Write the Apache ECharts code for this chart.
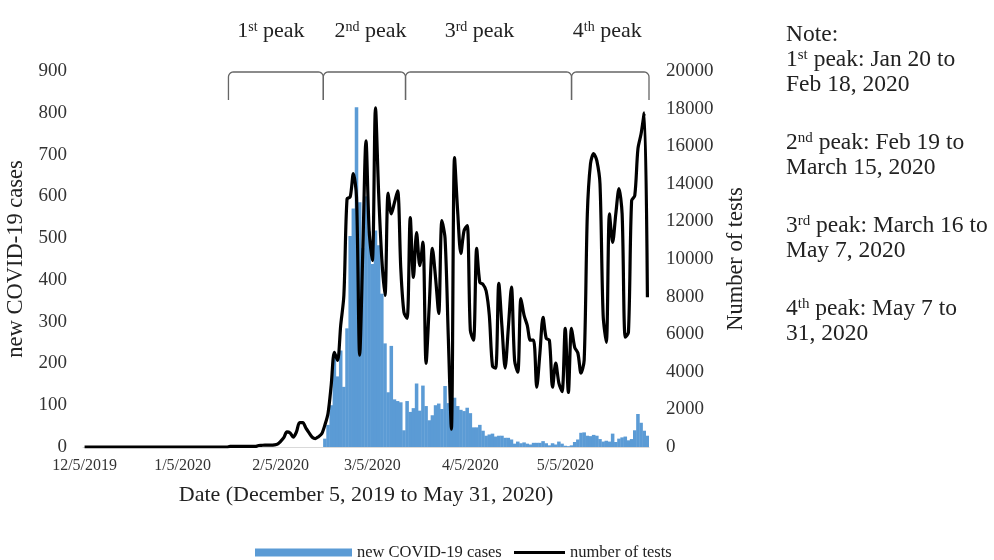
<!DOCTYPE html>
<html>
<head>
<meta charset="utf-8">
<script src="https://cdn.jsdelivr.net/npm/echarts@6/dist/echarts.min.js"></script>
<style>
  html, body { margin: 0; padding: 0; background: #fff; }
  #chart { width: 994px; height: 560px; }
</style>
</head>
<body>
<div id="chart"></div>
<script>
const FONT = 'Liberation Serif'
const TEXT = '#222'

// one category per day, 12/5/2019 .. 5/31/2020
const dates = []
for (let d = new Date(2019, 11, 5); d <= new Date(2020, 4, 31); d.setDate(d.getDate() + 1)) {
  dates.push((d.getMonth() + 1) + '/' + d.getDate() + '/' + d.getFullYear())
}
const tickLabels = ['12/5/2019', '1/5/2020', '2/5/2020', '3/5/2020', '4/5/2020', '5/5/2020']

// new COVID-19 cases per day, by month
const casesDec = [0, 0, 0, 0, 0, 0, 0, 0, 0, 0, 0, 0, 0, 0, 0, 0, 0, 0, 0, 0, 0, 0, 0, 0, 0, 0, 0]
const casesJan = [0, 0, 0, 0, 0, 0, 0, 0, 0, 0, 0, 0, 0, 0, 0, 0, 0, 0, 0, 0, 0, 0, 0, 0, 0, 0, 0, 0, 0, 0, 0]
const casesFeb = [0, 0, 0, 0, 0, 0, 0, 0, 0, 0, 0, 0, 0, 0, 0, 0, 0, 0,
  20, 53, 100, 215, 169, 231, 144, 284, 505, 571, 813]
const casesMar = [586, 476, 600, 516, 438, 518, 483, 367, 248, 131, 242, 114, 110, 107, 40,
  110, 84, 93, 152, 87, 147, 98, 64, 76, 100, 104, 91, 146, 105, 78, 118]
const casesApr = [98, 89, 86, 94, 81, 47, 47, 53, 39, 27, 30, 32, 25, 27, 27,
  22, 22, 18, 8, 13, 9, 11, 8, 6, 10, 10, 10, 14, 9, 4]
const casesMay = [9, 6, 13, 8, 3, 2, 4, 12, 18, 34, 35, 27, 26, 29, 27, 19,
  13, 15, 13, 32, 12, 20, 23, 25, 16, 19, 40, 79, 58, 39, 27]

// number of tests per day, by month
const testsDec = [0, 0, 0, 0, 0, 0, 0, 0, 0, 0, 0, 0, 0, 0, 0, 0, 0, 0, 0, 0, 0, 0, 0, 0, 0, 0, 0]
const testsJan = [0, 0, 0, 0, 0, 0, 0, 0, 0, 0, 0, 0, 0, 0, 0, 0, 0, 0, 0,
  30, 30, 30, 30, 30, 30, 30, 30, 30, 80, 90, 100]
const testsFeb = [100, 100, 110, 150, 300, 500, 800, 750, 530, 800, 1300, 1300, 1000, 750, 520,
  450, 550, 700, 1170, 1800, 3300, 5040, 4600, 6470, 8060, 13200, 13300, 14540, 13300]
const testsMar = [4880, 10500, 16290, 11500, 9920, 18040, 13500, 10000, 8060, 13500, 12400, 13000,
  13630, 9500, 7160, 6840, 12200, 9020, 11400, 9650, 10900, 4450, 7500, 10560, 9000, 7100,
  12040, 11100, 6000, 950, 15400]
const testsApr = [12500, 10290, 11500, 11780, 6200, 5680, 10560, 8750, 8650, 8300, 7000, 4300,
  4190, 8700, 6400, 4200, 6300, 8500, 4600, 3980, 7890, 7000, 6470, 5680, 5680, 3180, 5000,
  6900, 5780, 5680]
const testsMay = [3180, 4460, 3400, 2950, 6310, 2900, 6310, 5300, 5000, 3930, 4620, 12400, 15070,
  15600, 15230, 14000, 7000, 5570, 12400, 10880, 12400, 13740, 12400, 5840, 6100, 13100, 13370,
  15860, 16660, 17770, 7960]

const cases = [].concat(casesDec, casesJan, casesFeb, casesMar, casesApr, casesMay)
const tests = [].concat(testsDec, testsJan, testsFeb, testsMar, testsApr, testsMay)

// peak periods annotated above the plot
const peakNum = ['1', '2', '3', '4']
const peakSup = ['st', 'nd', 'rd', 'th']
const peakStart = ['1/20/2020', '2/19/2020', '3/16/2020', '5/7/2020']
const peakEnd = ['2/18/2020', '3/15/2020', '5/7/2020', '5/31/2020']
const peakLabelShift = [-5, 6, -9, -3]

// note block on the right: [number, superscript, rest of first line, second line]
const noteRows = [
  ['1', 'st', ' peak: Jan 20 to', 'Feb 18, 2020'],
  ['2', 'nd', ' peak: Feb 19 to', 'March 15, 2020'],
  ['3', 'rd', ' peak: March 16 to', 'May 7, 2020'],
  ['4', 'th', ' peak: May 7 to', '31, 2020'],
]

const showTick = (idx, val) => tickLabels.includes(val)

const chart = echarts.init(document.getElementById('chart'))

const option = {
  animation: false,
  textStyle: { fontFamily: FONT },
  grid: {
    left: 83,
    right: 345,
    top: 71,
    bottom: 113,
    containLabel: false,
    outerBoundsMode: 'none',
  },
  legend: [
    {
      data: [{ name: 'new COVID-19 cases', icon: 'rect' }],
      left: 250,
      top: 539,
      itemWidth: 97,
      itemHeight: 8,
      selectedMode: false,
      textStyle: { fontFamily: FONT, fontSize: 16.5, color: TEXT },
    },
    {
      data: [{ name: 'number of tests', icon: 'rect' }],
      left: 509,
      top: 539,
      itemWidth: 51,
      itemHeight: 3,
      selectedMode: false,
      textStyle: { fontFamily: FONT, fontSize: 16.5, color: TEXT },
    },
  ],
  xAxis: {
    type: 'category',
    data: dates,
    axisLine: { lineStyle: { color: '#d9d9d9', width: 1 } },
    axisTick: { interval: showTick, alignWithLabel: true, length: 5, lineStyle: { color: '#d9d9d9' } },
    axisLabel: {
      interval: showTick,
      hideOverlap: false,
      margin: 11,
      fontFamily: FONT,
      fontSize: 16,
      color: '#333',
    },
    splitLine: { show: false },
    name: 'Date (December 5, 2019 to May 31, 2020)',
    nameLocation: 'middle',
    nameGap: 37,
    nameTextStyle: { fontFamily: FONT, fontSize: 22, color: TEXT },
  },
  yAxis: [
    {
      type: 'value',
      min: 0,
      max: 900,
      interval: 100,
      axisLine: { show: false },
      axisTick: { show: false },
      splitLine: { show: false },
      axisLabel: { margin: 16, fontFamily: FONT, fontSize: 19, color: '#333' },
      name: 'new COVID-19 cases',
      nameLocation: 'middle',
      nameGap: 46,
      nameTextStyle: { fontFamily: FONT, fontSize: 22.5, color: TEXT },
    },
    {
      type: 'value',
      min: 0,
      max: 20000,
      interval: 2000,
      axisLine: { show: false },
      axisTick: { show: false },
      splitLine: { show: false },
      axisLabel: { margin: 17, fontFamily: FONT, fontSize: 19, color: '#333', formatter: v => String(v) },
      name: 'Number of tests',
      nameLocation: 'middle',
      nameGap: 74,
      nameTextStyle: { fontFamily: FONT, fontSize: 22.5, color: TEXT },
    },
  ],
  series: [
    {
      name: 'new COVID-19 cases',
      type: 'bar',
      data: cases,
      yAxisIndex: 0,
      barWidth: '112%',
      itemStyle: { color: '#5B9BD5' },
      z: 1,
    },
    {
      name: 'number of tests',
      type: 'line',
      data: tests,
      yAxisIndex: 1,
      symbol: 'none',
      smooth: 0.3,
      lineStyle: { color: '#000', width: 3.2 },
      itemStyle: { color: '#000' },
      z: 2,
    },
  ],
}

chart.setOption(option)

// annotations: braces over the peak periods, peak labels and the note
function richLine(num, sup, rest, size) {
  return {
    text: '{b|' + num + '}{s|' + sup + '}{b|' + rest + '}',
    rich: {
      b: { fontFamily: FONT, fontSize: size, fill: TEXT },
      s: { fontFamily: FONT, fontSize: Math.round(size * 0.62), fill: TEXT, verticalAlign: 'top' },
    },
  }
}

function bracePoints(x1, x2, top, bottom, r) {
  const pts = [[x1, bottom], [x1, top + r]]
  for (let k = 1; k <= 6; k++) {
    const a = Math.PI + (k / 6) * Math.PI / 2
    pts.push([x1 + r + r * Math.cos(a), top + r + r * Math.sin(a)])
  }
  for (let k = 0; k <= 6; k++) {
    const a = 1.5 * Math.PI + (k / 6) * Math.PI / 2
    pts.push([x2 - r + r * Math.cos(a), top + r + r * Math.sin(a)])
  }
  pts.push([x2, bottom])
  return pts
}

const xAt = d => chart.convertToPixel({ xAxisIndex: 0 }, d)
const band = xAt(dates[1]) - xAt(dates[0])
const graphic = []

peakStart.forEach((start, i) => {
  const sharedStart = i > 0 && peakEnd[i - 1] === start
  const sharedEnd = i < peakStart.length - 1 && peakStart[i + 1] === peakEnd[i]
  const x1 = sharedStart ? xAt(start) : xAt(start) - band / 2
  const x2 = sharedEnd ? xAt(peakEnd[i]) : xAt(peakEnd[i]) + band / 2
  graphic.push({
    type: 'polyline',
    silent: true,
    shape: { points: bracePoints(x1, x2, 72, 100, 5) },
    style: { stroke: '#666', lineWidth: 1.3, fill: null },
  })
  graphic.push({
    type: 'text',
    silent: true,
    x: (x1 + x2) / 2 + peakLabelShift[i],
    y: 31,
    style: Object.assign(richLine(peakNum[i], peakSup[i], ' peak', 22), {
      align: 'center',
      verticalAlign: 'middle',
    }),
  })
})

const noteX = 786
graphic.push({
  type: 'text',
  silent: true,
  x: noteX,
  y: 35,
  style: { text: 'Note:', fontFamily: FONT, fontSize: 23.5, fill: TEXT, verticalAlign: 'middle' },
})
noteRows.forEach((row, i) => {
  const y0 = 59.5 + i * 83
  graphic.push({
    type: 'text',
    silent: true,
    x: noteX,
    y: y0,
    style: Object.assign(richLine(row[0], row[1], row[2], 23.5), { verticalAlign: 'middle' }),
  })
  graphic.push({
    type: 'text',
    silent: true,
    x: noteX,
    y: y0 + 25.5,
    style: { text: row[3], fontFamily: FONT, fontSize: 23.5, fill: TEXT, verticalAlign: 'middle' },
  })
})

chart.setOption({ graphic })
</script>
</body>
</html>
